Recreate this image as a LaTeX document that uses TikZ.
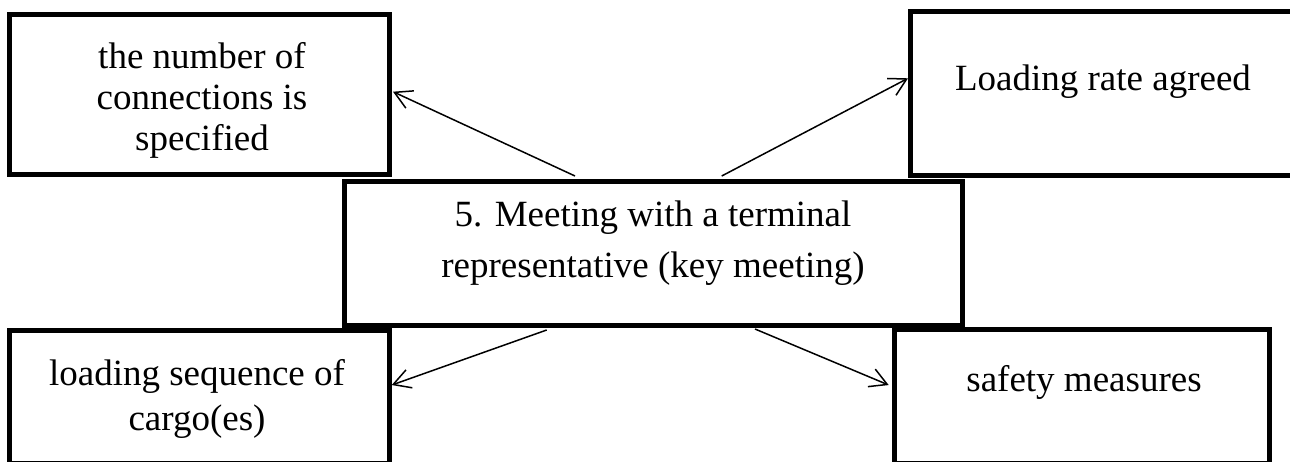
\documentclass[tikz,border=0pt]{standalone}
\usepackage{fontspec}
\setmainfont{Liberation Serif}
\usetikzlibrary{arrows.meta,calc}
\tikzset{
  box/.style={draw=black, line width=5pt, rectangle, inner sep=0pt, fill=white},
  txt/.style={anchor=base, inner sep=0pt},
  conn/.style={draw=black, line width=1.5pt, -{Straight Barb[length=17pt,width=19pt,line width=1.5pt]}},
}
\newcommand{\mlines}[2]{{\fontsize{37}{#1}\selectfont\begin{tabular}[t]{@{}c@{}}#2\end{tabular}}}
\begin{document}
\begin{tikzpicture}[x=1pt,y=-1pt]
\useasboundingbox (0,0) rectangle (1290,461);
\clip (0,0) rectangle (1290,461);
% boxes
\node[box, minimum width=380pt, minimum height=160.3pt] (tl) at (199.5,94.2) {};
\node[box, minimum width=381.5pt, minimum height=164pt] (tr) at (1101.25,93.5) {};
\node[box, minimum width=379.4pt, minimum height=132.5pt] (bl) at (199.5,397.05) {};
\node[box, minimum width=375.6pt, minimum height=133.5pt] (br) at (1082,396.55) {};
\node[box, minimum width=618pt, minimum height=144pt] (c) at (653.5,253.5) {};
% texts
\node[txt] (tlt) at (202,68.3) {\mlines{41.2}{the number of\\connections is\\specified}};
\node[txt] (trt) at (1103,90) {\mlines{41}{Loading rate agreed}};
\node[txt] (ct) at (653,226.7) {\mlines{50.3}{5. Meeting with a terminal\\representative (key meeting)}};
\node[txt] (blt) at (197,385) {\mlines{45}{loading sequence of\\cargo(es)}};
\node[txt] (brt) at (1084,391.7) {\mlines{41}{safety measures}};
% connectors
\draw[conn] ($(c.north)+(-78.5,-3)$) -- ($(tl.east)+(1,-2.5)$);
\draw[conn] ($(c.north)+(68.2,-3)$) -- ($(tr.west)+(0,-15.2)$);
\draw[conn] ($(c.south)+(-106.8,2)$) -- ($(bl.east)+(0,-12)$);
\draw[conn] ($(c.south)+(101.5,1)$) -- ($(br.west)+(-3,-11.5)$);
\end{tikzpicture}
\end{document}
